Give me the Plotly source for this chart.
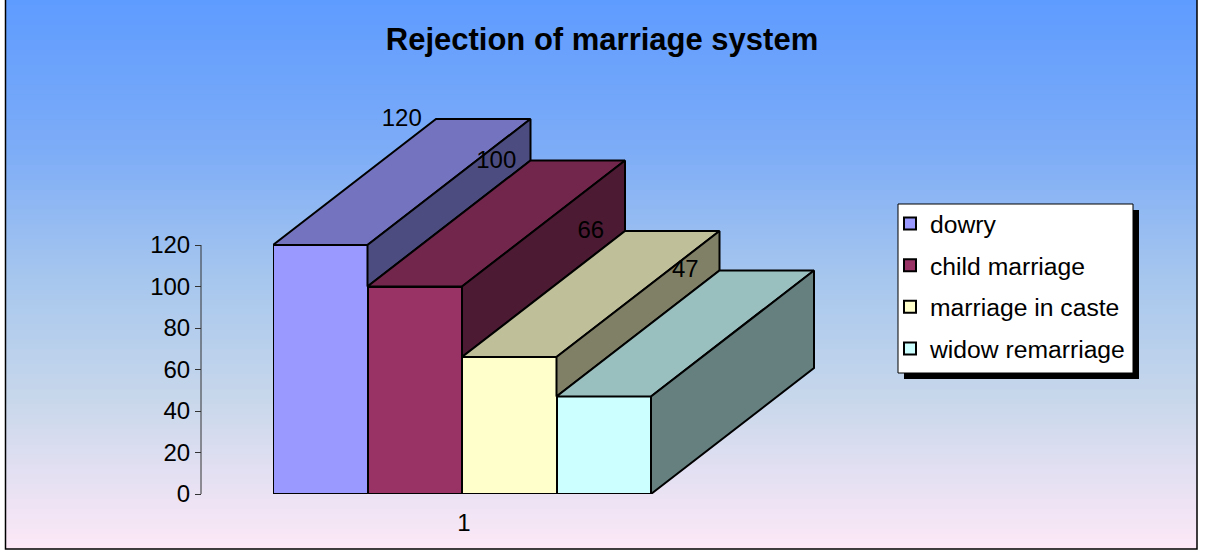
import plotly.graph_objects as go

W, H = 1208, 556

# ---- data ----
TITLE = "Rejection of marriage system"
CATEGORY = [1]
SERIES = ["dowry", "child marriage", "marriage in caste", "widow remarriage"]
VALUES = [120, 100, 66, 47]
Y_TICKS = [0, 20, 40, 60, 80, 100, 120]

# ---- style ----
FRONT = [(153, 153, 255), (153, 51, 102), (255, 255, 204), (204, 255, 255)]
TOP_SHADE, SIDE_SHADE = 0.75, 0.5
GRAD_STOPS = [
    (0.0, (95, 156, 255)),
    (0.27, (125, 172, 247)),
    (0.5, (165, 198, 238)),
    (0.73, (200, 215, 235)),
    (0.87, (228, 224, 242)),
    (1.0, (252, 232, 247)),
]
FONT = "Liberation Sans"
EDGE = 2

# pixel geometry of the plot
PX_LEFT, PX_RIGHT = 273, 651
PX_ZERO, PX_MAX = 494, 245
PX_AXIS = 201
PX_DEPTH_X, PX_DEPTH_Y = 163, 126
PX_AREA_RIGHT, PX_AREA_TOP = 840, 100
PX_LABEL_DROP = 1
BOX = (5.5, 0, 1197, 549)
LEG = (898, 204, 1133, 373)


def rgb(c, k=1.0):
    return "rgb(%d,%d,%d)" % tuple(round(v * k) for v in c)


def px(x):
    return x / W


def py(y):
    return 1 - y / H


def grad(t):
    for (t0, c0), (t1, c1) in zip(GRAD_STOPS, GRAD_STOPS[1:]):
        if t <= t1:
            f = (t - t0) / (t1 - t0)
            return tuple(a + (b - a) * f for a, b in zip(c0, c1))
    return GRAD_STOPS[-1][1]


bar_w = 1 / len(SERIES)
x_unit = 1 / (PX_RIGHT - PX_LEFT)
y_unit = Y_TICKS[-1] / (PX_ZERO - PX_MAX)
DX, DY = PX_DEPTH_X * x_unit, PX_DEPTH_Y * y_unit
x0 = CATEGORY[0] - 0.5

fig = go.Figure()

# front faces
for name, v, c in zip(SERIES, VALUES, FRONT):
    fig.add_trace(go.Bar(
        x=CATEGORY, y=[v], name=name, legendgroup=name, cliponaxis=False,
        marker=dict(color=rgb(c), line=dict(color="black", width=EDGE)),
        hoverinfo="name+y",
    ))

# top and visible side faces, projected from the values
for i, (v, c) in enumerate(zip(VALUES, FRONT)):
    xl = x0 + i * bar_w
    xr = xl + bar_w
    nxt = VALUES[i + 1] if i + 1 < len(VALUES) else 0
    fig.add_trace(go.Scatter(
        x=[xl, xr, xr + DX, xl + DX, xl], y=[v, v, v + DY, v + DY, v],
        mode="lines", fill="toself", fillcolor=rgb(c, TOP_SHADE),
        line=dict(color="black", width=EDGE), showlegend=False,
        hoverinfo="skip",
    ))
    fig.add_trace(go.Scatter(
        x=[xr, xr + DX, xr + DX, xr, xr], y=[v, v + DY, nxt + DY, nxt, v],
        mode="lines", fill="toself", fillcolor=rgb(c, SIDE_SHADE),
        line=dict(color="black", width=EDGE), showlegend=False,
        hoverinfo="skip",
    ))

# data labels
fig.add_trace(go.Scatter(
    x=[x0 + (i + 0.5) * bar_w + DX / 2 for i in range(len(VALUES))],
    y=[v + DY - PX_LABEL_DROP * y_unit for v in VALUES],
    text=[str(v) for v in VALUES],
    mode="text", textposition="middle center",
    textfont=dict(family=FONT, size=24, color="black"),
    showlegend=False, hoverinfo="skip", cliponaxis=False,
))

shapes = []
# background gradient, each strip running down to the bottom so no seams show
STEPS = 110
for s in range(STEPS):
    col = grad(s / (STEPS - 1))
    top = BOX[1] + (BOX[3] - BOX[1]) * s / STEPS
    shapes.append(dict(type="rect", xref="paper", yref="paper", layer="below",
                       x0=px(BOX[0]), x1=px(BOX[2]), y0=py(BOX[3]), y1=py(top),
                       fillcolor=rgb(col), line=dict(width=0)))
# chart border
shapes.append(dict(type="rect", xref="paper", yref="paper", layer="below",
                   x0=px(BOX[0]), x1=px(BOX[2]), y0=py(BOX[3]), y1=py(BOX[1] - 2),
                   fillcolor="rgba(0,0,0,0)", line=dict(color="black", width=1.5)))
# legend shadow and box
shapes.append(dict(type="rect", xref="paper", yref="paper", layer="below",
                   x0=px(LEG[0] + 6), x1=px(LEG[2] + 6), y0=py(LEG[3] + 6), y1=py(LEG[1] + 6),
                   fillcolor="black", line=dict(width=0)))
shapes.append(dict(type="rect", xref="paper", yref="paper", layer="below",
                   x0=px(LEG[0]), x1=px(LEG[2]), y0=py(LEG[3]), y1=py(LEG[1]),
                   fillcolor="white", line=dict(color="black", width=1)))
# value axis line, only as long as the tick range
shapes.append(dict(type="line", xref="paper", yref="y", layer="below",
                   x0=px(PX_AXIS), x1=px(PX_AXIS), y0=Y_TICKS[0], y1=Y_TICKS[-1],
                   line=dict(color="#333333", width=1)))

fig.update_layout(
    width=W, height=H,
    autosize=False,
    margin=dict(l=0, r=0, t=0, b=0, pad=0, autoexpand=False),
    paper_bgcolor="white", plot_bgcolor="rgba(0,0,0,0)",
    barmode="group", bargap=0, bargroupgap=0,
    font=dict(family=FONT, size=24, color="black"),
    title=dict(text="<b>%s</b>" % TITLE, x=602 / W, xanchor="center",
               y=py(39), yanchor="middle",
               font=dict(family=FONT, size=31, color="black")),
    shapes=shapes,
    showlegend=True,
    legend=dict(x=px(894), xanchor="left", y=py(201), yanchor="top",
                bgcolor="rgba(0,0,0,0)", borderwidth=0, indentation=-4,
                font=dict(family=FONT, size=24.7, color="black"),
                tracegroupgap=6.5, itemclick=False, itemdoubleclick=False),
    xaxis=dict(domain=[px(PX_LEFT), px(PX_AREA_RIGHT)],
               range=[x0, x0 + (PX_AREA_RIGHT - PX_LEFT) * x_unit],
               tickmode="array", tickvals=CATEGORY, ticktext=[str(c) for c in CATEGORY],
               showgrid=False, zeroline=False, showline=False, ticks="", ticklen=0,
               ticklabelstandoff=12, ticklabelshift=2,
               tickfont=dict(family=FONT, size=24), fixedrange=True),
    yaxis=dict(domain=[py(PX_ZERO), py(PX_AREA_TOP)],
               range=[0, (PX_ZERO - PX_AREA_TOP) * y_unit],
               anchor="free", position=px(PX_AXIS), side="left",
               tickmode="array", tickvals=Y_TICKS,
               showgrid=False, zeroline=False, showline=False,
               ticks="outside", ticklen=6, tickcolor="#333333", tickwidth=1,
               tickfont=dict(family=FONT, size=24), fixedrange=True),
)

fig.write_html("out.html", config=dict(displayModeBar=False),
               post_script="document.body.style.margin='0';document.body.style.overflow='hidden';")
